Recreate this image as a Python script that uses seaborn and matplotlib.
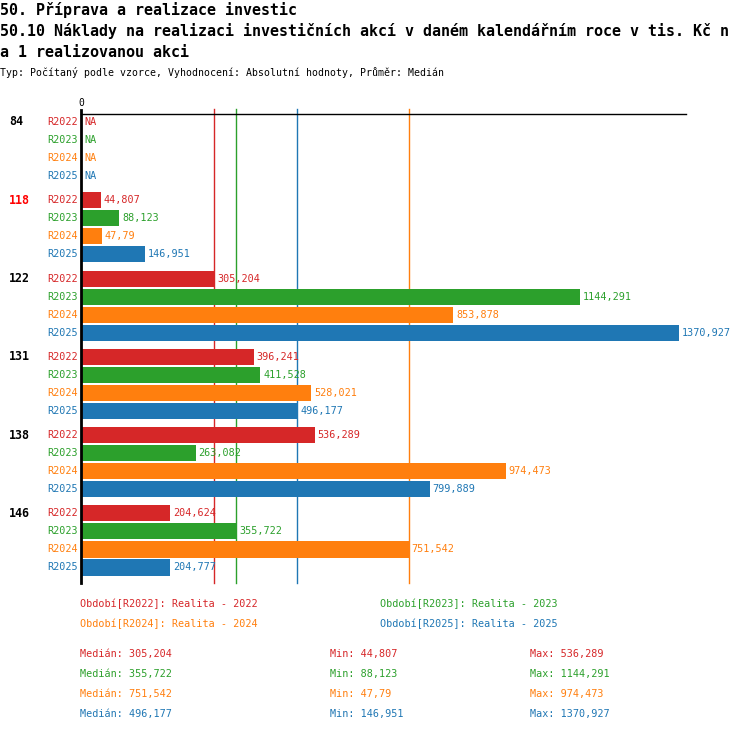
import numpy as np
import pandas as pd
import matplotlib.pyplot as plt
from matplotlib.transforms import blended_transform_factory
import seaborn as sns

plt.rcParams['font.family'] = ['DejaVu Sans Mono']

# data
groups = ['84', '118', '122', '131', '138', '146']
periods = ['R2022', 'R2023', 'R2024', 'R2025']
r2022 = [np.nan, 44.807, 305.204, 396.241, 536.289, 204.624]
r2023 = [np.nan, 88.123, 1144.291, 411.528, 263.082, 355.722]
r2024 = [np.nan, 47.79, 853.878, 528.021, 974.473, 751.542]
r2025 = [np.nan, 146.951, 1370.927, 496.177, 799.889, 204.777]
period_names = ['Realita - 2022', 'Realita - 2023', 'Realita - 2024', 'Realita - 2025']
highlight = '118'

title1 = '50. Příprava a realizace investic'
title2 = '50.10 Náklady na realizaci investičních akcí v daném kalendářním roce v tis. Kč n'
title3 = 'a 1 realizovanou akci'
subtitle = 'Typ: Počítaný podle vzorce, Vyhodnocení: Absolutní hodnoty, Průměr: Medián'

colors = ['#d62728', '#2ca02c', '#ff7f0e', '#1f77b4']
series = [r2022, r2023, r2024, r2025]

rows = []
for p, vals in zip(periods, series):
    for g, v in zip(groups, vals):
        rows.append({'skupina': g, 'obdobi': p, 'hodnota': v})
df = pd.DataFrame(rows)


def fmt(v):
    return ('%.3f' % v).rstrip('0').rstrip('.').replace('.', ',')


W, H = 750, 732
fig = plt.figure(figsize=(W / 100, H / 100), dpi=100)
ax = fig.add_axes([81 / W, 1 - 583 / H, (686 - 81) / W, (583 - 114) / H])

bar_w = 0.92
sns.barplot(data=df, x='hodnota', y='skupina', hue='obdobi', order=groups,
            hue_order=periods, palette=colors, orient='h', width=bar_w, gap=0.11,
            saturation=1, errorbar=None, legend=False, linewidth=0, ax=ax)

ax.set_xlim(0, 1388)
ax.set_ylim(len(groups) - 0.457, -0.447)
for s in ['right', 'bottom', 'left']:
    ax.spines[s].set_visible(False)
ax.spines['top'].set_linewidth(1)
ax.xaxis.tick_top()
ax.set_xticks([0])
ax.set_xticklabels(['0'])
ax.tick_params(axis='x', length=0, pad=4, labelsize=7)
ax.set_yticks([])
ax.set_xlabel('')
ax.set_ylabel('')

ax.axvline(0, color='black', lw=2, ymin=0, ymax=1.009, clip_on=False, zorder=3)

medians = [np.nanmedian(v) for v in series]
mins = [np.nanmin(v) for v in series]
maxs = [np.nanmax(v) for v in series]
for m, c in zip(medians, colors):
    ax.axvline(m, color=c, lw=1, ymin=0, ymax=1.011, clip_on=False, zorder=0.5)

tr = blended_transform_factory(fig.transFigure, ax.transData)
step = bar_w / len(periods)
for i, g in enumerate(groups):
    for j, (p, c) in enumerate(zip(periods, colors)):
        y = i + (j - 1.5) * step
        ax.text(78 / W, y, p, transform=tr, ha='right', va='center', color=c, fontsize=7.3)
        v = series[j][i]
        txt = 'NA' if np.isnan(v) else fmt(v)
        ax.annotate(txt, xy=(0 if np.isnan(v) else v, y), xytext=(3, 0),
                    textcoords='offset pixels', ha='left', va='center', color=c, fontsize=7.3)
    ax.text(9 / W, i - 1.5 * step, g, transform=tr, ha='left', va='center',
            fontsize=8.4, fontweight='bold', color='#ff0000' if g == highlight else 'black')

# titles
fig.text(0, 1 - 15 / H, title1, fontsize=10.8, fontweight='bold', va='baseline')
fig.text(0, 1 - 36 / H, title2, fontsize=10.8, fontweight='bold', va='baseline')
fig.text(0, 1 - 57 / H, title3, fontsize=10.8, fontweight='bold', va='baseline')
fig.text(0, 1 - 76.5 / H, subtitle, fontsize=7.1, va='baseline')

# legend
leg_pos = [(80, 604), (380, 604), (80, 624), (380, 624)]
for (x, y), p, n, c in zip(leg_pos, periods, period_names, colors):
    fig.text(x / W, 1 - y / H, f'Období[{p}]: {n}', color=c, fontsize=7.3, va='center')

# stats
for k, c in enumerate(colors):
    y = 1 - (654 + 20 * k) / H
    fig.text(80 / W, y, f'Medián: {fmt(medians[k])}', color=c, fontsize=7.3, va='center')
    fig.text(330 / W, y, f'Min: {fmt(mins[k])}', color=c, fontsize=7.3, va='center')
    fig.text(530 / W, y, f'Max: {fmt(maxs[k])}', color=c, fontsize=7.3, va='center')

fig.savefig('out.png', dpi=100)
